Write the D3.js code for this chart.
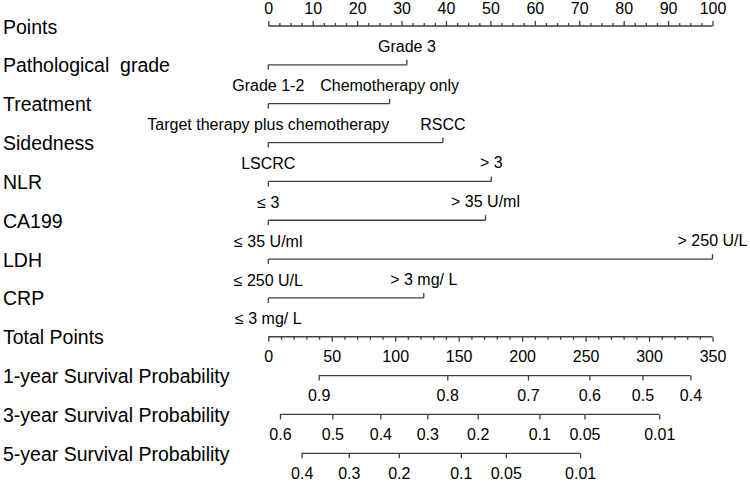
<!DOCTYPE html>
<html>
<head>
<meta charset="utf-8">
<script src="https://cdn.jsdelivr.net/npm/d3@7"></script>
<style>
  html, body { margin: 0; padding: 0; background: #fff; }
  svg { display: block; }
  text { font-family: "Liberation Sans", Arial, sans-serif; fill: #000; }
</style>
</head>
<body>
<svg id="chart" width="750" height="482"></svg>
<script>
// ---- data ----
const rowNames = ["Points", "Pathological  grade", "Treatment", "Sidedness", "NLR", "CA199", "LDH", "CRP",
  "Total Points", "1-year Survival Probability", "3-year Survival Probability", "5-year Survival Probability"];

const varNames = ["Pathological  grade", "Treatment", "Sidedness", "NLR", "CA199", "LDH", "CRP"];
const lowLevels = ["Grade 1-2", "Target therapy plus chemotherapy", "LSCRC", "≤ 3", "≤ 35 U/ml", "≤ 250 U/L", "≤ 3 mg/ L"];
const highLevels = ["Grade 3", "Chemotherapy only", "RSCC", "> 3", "> 35 U/ml", "> 250 U/L", "> 3 mg/ L"];
const lowPoints = [0, 0, 0, 0, 0, 0, 0];
const highPoints = [31.2, 27.3, 39.3, 50.2, 48.9, 100, 35.0];

const pointsTicks = [0, 10, 20, 30, 40, 50, 60, 70, 80, 90, 100];
const totalTicks = [0, 50, 100, 150, 200, 250, 300, 350];

const surv1Labels = ["0.9", "0.8", "0.7", "0.6", "0.5", "0.4"];
const surv1Total = [39.7, 141.0, 204.6, 253.0, 294.8, 332.6];
const surv3Labels = ["0.6", "0.5", "0.4", "0.3", "0.2", "0.1", "0.05", "0.01"];
const surv3Total = [9.2, 50.5, 88.3, 125.3, 165.0, 213.6, 249.1, 308.0];
const surv5Labels = ["0.4", "0.3", "0.2", "0.1", "0.05", "0.01"];
const surv5Total = [26.3, 63.4, 102.8, 151.7, 187.1, 245.7];

// ---- layout ----
const svg = d3.select("#chart");
const LINE = "#404040", SW = 1.3;
const labelFont = "19.5px", tickFont = "16px";
const xLeft = 268.3, xRight = 712.5;

const y = d3.scalePoint().domain(rowNames).range([26, 453.3]);
const xPts = d3.scaleLinear().domain([0, 100]).range([xLeft, xRight]);
const xTot = d3.scaleLinear().domain([0, 350]).range([xLeft, xRight]);

// row labels
svg.append("g").selectAll("text").data(rowNames).join("text")
  .attr("x", 3)
  .attr("y", d => y(d) + 7.5)
  .style("font-size", labelFont)
  .style("white-space", "pre")
  .attr("xml:space", "preserve")
  .text(d => d);

function styleAxis(g, fontSize) {
  g.select(".domain").remove();
  g.selectAll(".tick line").attr("stroke", LINE).attr("stroke-width", SW);
  g.selectAll(".tick text").style("font-size", fontSize).style("font-family", '"Liberation Sans", Arial, sans-serif').attr("fill", "#000");
  g.attr("font-family", null).attr("font-size", null);
}

// ---- Points axis (top) ----
{
  const gy = y("Points");
  const minor = d3.range(0, 100.01, 2.5).filter(v => v % 10 !== 0);
  const gMinor = svg.append("g").attr("transform", `translate(0,${gy})`)
    .call(d3.axisTop(xPts).tickValues(minor).tickSize(3).tickFormat(""));
  styleAxis(gMinor, tickFont);
  const gMajor = svg.append("g").attr("transform", `translate(0,${gy})`)
    .call(d3.axisTop(xPts).tickValues(pointsTicks).tickSize(5).tickPadding(7).tickFormat(d3.format("d")));
  styleAxis(gMajor, tickFont);
  svg.append("line").attr("x1", xPts(0)).attr("x2", xPts(100)).attr("y1", gy).attr("y2", gy)
    .attr("stroke", LINE).attr("stroke-width", SW);
}

// ---- variable rows ----
varNames.forEach((name, i) => {
  const gy = y(name);
  const g = svg.append("g");
  const x0 = xPts(lowPoints[i]), x1 = xPts(highPoints[i]);
  g.append("line").attr("x1", x0).attr("x2", x1).attr("y1", gy).attr("y2", gy)
    .attr("stroke", LINE).attr("stroke-width", SW);
  g.append("line").attr("x1", x0).attr("x2", x0).attr("y1", gy).attr("y2", gy + 5)
    .attr("stroke", LINE).attr("stroke-width", SW);
  g.append("line").attr("x1", x1).attr("x2", x1).attr("y1", gy).attr("y2", gy - 5)
    .attr("stroke", LINE).attr("stroke-width", SW);
  g.append("text").attr("x", x0).attr("y", gy + 26.5).attr("text-anchor", "middle")
    .style("font-size", tickFont).text(lowLevels[i]);
  g.append("text").attr("x", x1).attr("y", gy - 13).attr("text-anchor", "middle")
    .style("font-size", tickFont).text(highLevels[i]);
});

// ---- Total points axis ----
{
  const gy = y("Total Points");
  const minor = d3.range(0, 350.01, 10).filter(v => v % 50 !== 0);
  const gMinor = svg.append("g").attr("transform", `translate(0,${gy})`)
    .call(d3.axisBottom(xTot).tickValues(minor).tickSize(3).tickFormat(""));
  styleAxis(gMinor, tickFont);
  const gMajor = svg.append("g").attr("transform", `translate(0,${gy})`)
    .call(d3.axisBottom(xTot).tickValues(totalTicks).tickSize(5).tickPadding(9).tickFormat(d3.format("d")));
  styleAxis(gMajor, tickFont);
  svg.append("line").attr("x1", xTot(0)).attr("x2", xTot(350)).attr("y1", gy).attr("y2", gy)
    .attr("stroke", LINE).attr("stroke-width", SW);
}

// ---- survival probability axes ----
function probAxis(rowName, labels, totals) {
  const gy = y(rowName);
  const g = svg.append("g").attr("transform", `translate(0,${gy})`)
    .call(d3.axisBottom(xTot).tickValues(totals).tickSize(5).tickPadding(9)
      .tickFormat((d, i) => labels[i]));
  styleAxis(g, tickFont);
  svg.append("line").attr("x1", xTot(d3.min(totals))).attr("x2", xTot(d3.max(totals)))
    .attr("y1", gy).attr("y2", gy).attr("stroke", LINE).attr("stroke-width", SW);
}
probAxis("1-year Survival Probability", surv1Labels, surv1Total);
probAxis("3-year Survival Probability", surv3Labels, surv3Total);
probAxis("5-year Survival Probability", surv5Labels, surv5Total);
</script>
</body>
</html>
